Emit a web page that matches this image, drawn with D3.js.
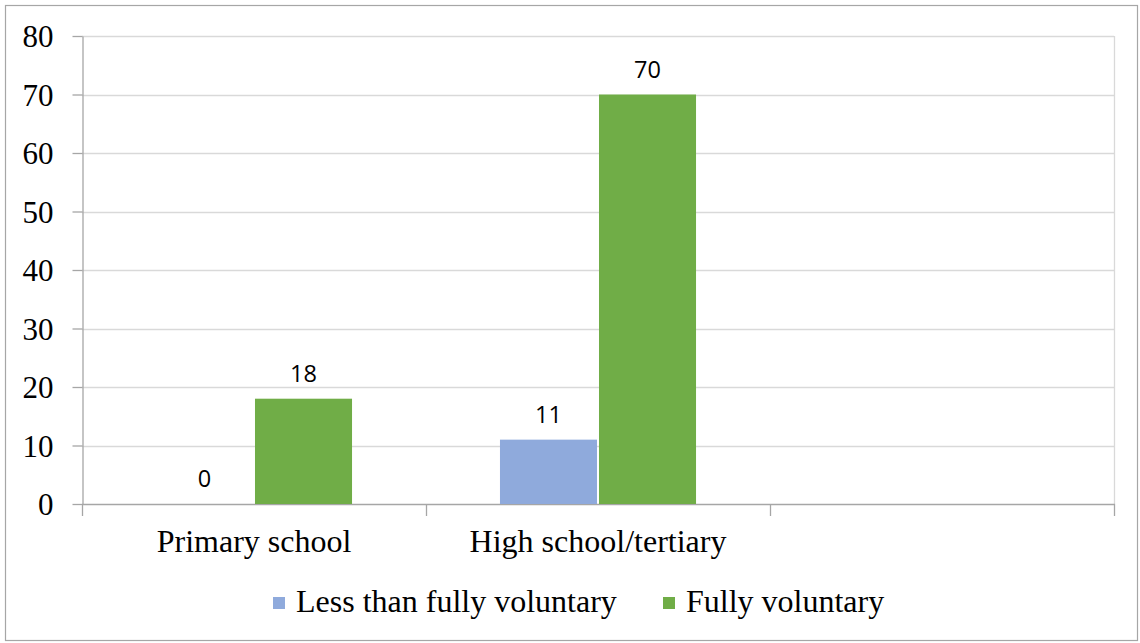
<!DOCTYPE html>
<html>
<head>
<meta charset="utf-8">
<script src="https://cdn.jsdelivr.net/npm/d3@7"></script>
<style>
  html, body { margin: 0; padding: 0; background: #fff; }
  svg { display: block; }
</style>
</head>
<body>
<svg id="chart" width="1140" height="643"></svg>
<script>
// Categories, series and axis ticks
const categories = ["Primary school", "High school/tertiary", ""];
const seriesNames = ["Less than fully voluntary", "Fully voluntary"];
const lessThanFully = [0, 11, null];
const fullyVoluntary = [18, 70, null];
const yTicks = [0, 10, 20, 30, 40, 50, 60, 70, 80];
const seriesColors = ["#8FAADC", "#70AD47"];

const serif = "'Liberation Serif', 'Times New Roman', serif";
const sans = "'Open Sans', 'Liberation Sans', sans-serif";

const svg = d3.select("#chart");
const W = 1140, H = 643;

// outer chart border
svg.append("rect")
  .attr("x", 5.5).attr("y", 5.5)
  .attr("width", W - 8).attr("height", H - 8)
  .attr("fill", "#fff").attr("stroke", "#A6A6A6").attr("stroke-width", 1.2);

const plot = { left: 82, right: 1114, top: 36, bottom: 504 };

const x0 = d3.scaleBand().domain(categories.map((c, i) => i))
  .range([plot.left, plot.right]).padding(0);
const x1 = d3.scaleBand().domain(seriesNames)
  .range([0, x0.bandwidth()]).paddingInner(0.02).paddingOuter(0.747);
const y = d3.scaleLinear().domain([0, 80]).range([plot.bottom, plot.top]);

// horizontal gridlines
svg.append("g").selectAll("line").data(yTicks.filter(t => t > 0)).join("line")
  .attr("x1", plot.left).attr("x2", plot.right)
  .attr("y1", d => Math.round(y(d)) + 0.5).attr("y2", d => Math.round(y(d)) + 0.5)
  .attr("stroke", "#D9D9D9").attr("stroke-width", 1.3);

// right edge of the plot area
svg.append("line")
  .attr("x1", plot.right + 0.5).attr("x2", plot.right + 0.5)
  .attr("y1", plot.top).attr("y2", plot.bottom)
  .attr("stroke", "#D9D9D9").attr("stroke-width", 1.3);

// y axis
const yAxis = svg.append("g")
  .attr("transform", `translate(${plot.left + 0.5},0)`)
  .call(d3.axisLeft(y).tickValues(yTicks).tickSize(10).tickPadding(19).tickSizeOuter(0));
yAxis.select(".domain").attr("stroke", "#A6A6A6").attr("stroke-width", 1.3);
yAxis.selectAll(".tick line").attr("stroke", "#A6A6A6").attr("stroke-width", 1.3);
yAxis.selectAll(".tick text")
  .attr("font-family", serif).attr("font-size", 31).attr("fill", "#000")
  .attr("dy", "0.34em");

// x axis with category labels
const xAxis = svg.append("g")
  .attr("transform", `translate(0,${plot.bottom + 0.5})`)
  .call(d3.axisBottom(x0).tickFormat(i => categories[i]).tickSize(0).tickPadding(28));
xAxis.select(".domain").remove();
xAxis.selectAll(".tick text")
  .attr("font-family", serif).attr("font-size", 32).attr("fill", "#000")
  .attr("dy", "0.6em");

// x axis line and category boundary ticks
svg.append("line")
  .attr("x1", plot.left).attr("x2", plot.right + 1)
  .attr("y1", plot.bottom + 0.5).attr("y2", plot.bottom + 0.5)
  .attr("stroke", "#A6A6A6").attr("stroke-width", 1.3);
const bounds = categories.map((c, i) => x0(i)).concat([x0.range()[1]]);
svg.append("g").selectAll("line").data(bounds).join("line")
  .attr("x1", d => Math.round(d) + 0.5).attr("x2", d => Math.round(d) + 0.5)
  .attr("y1", plot.bottom).attr("y2", plot.bottom + 12)
  .attr("stroke", "#A6A6A6").attr("stroke-width", 1.3);

// bars
const seriesData = [lessThanFully, fullyVoluntary];
const rows = [];
categories.forEach((c, i) => {
  seriesNames.forEach((s, k) => {
    const v = seriesData[k][i];
    if (v !== null) rows.push({ i, s, k, v });
  });
});

svg.append("g").selectAll("rect").data(rows).join("rect")
  .attr("x", d => x0(d.i) + x1(d.s))
  .attr("y", d => y(d.v))
  .attr("width", x1.bandwidth())
  .attr("height", d => y(0) - y(d.v))
  .attr("fill", d => seriesColors[d.k]);

// value labels
svg.append("g").selectAll("text").data(rows).join("text")
  .attr("x", d => x0(d.i) + x1(d.s) + x1.bandwidth() / 2)
  .attr("y", d => y(d.v) - 17)
  .attr("text-anchor", "middle")
  .attr("font-family", sans).attr("font-size", 23.5).attr("fill", "#000")
  .text(d => d.v);

// legend
const legend = svg.append("g").attr("transform", "translate(0,612)");
const legendX = [273, 663];
seriesNames.forEach((s, k) => {
  legend.append("rect")
    .attr("x", legendX[k]).attr("y", -15)
    .attr("width", 12).attr("height", 12)
    .attr("fill", seriesColors[k]);
  legend.append("text")
    .attr("x", legendX[k] + 23).attr("y", 0)
    .attr("font-family", serif).attr("font-size", 32).attr("fill", "#000")
    .text(s);
});
</script>
</body>
</html>
